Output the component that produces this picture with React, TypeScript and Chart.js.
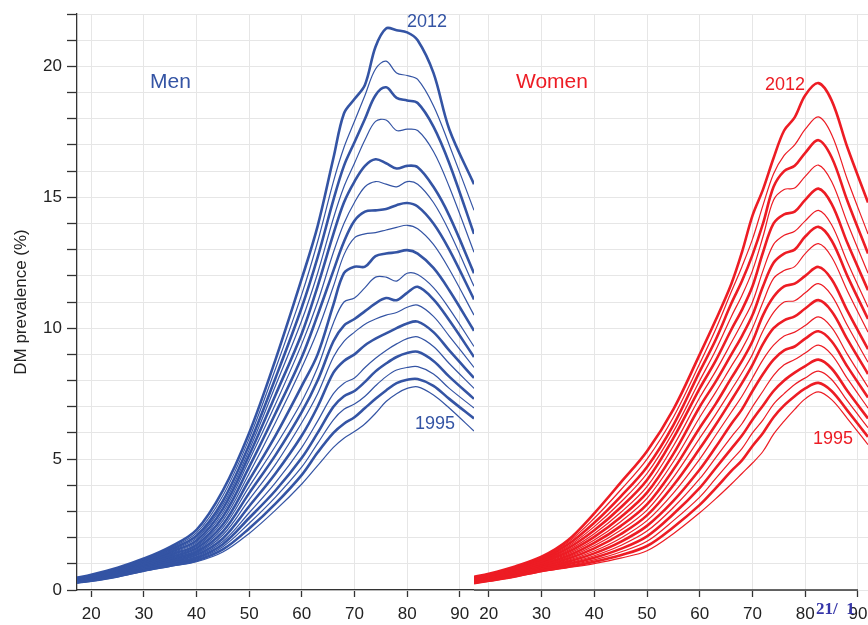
import { useEffect, useRef } from "react"
import { Chart, registerables } from "chart.js"

Chart.register(...registerables)

// survey years, one line each; even years are drawn thicker
const years = [1995, 1996, 1997, 1998, 1999, 2000, 2001, 2002, 2003, 2004, 2005, 2006, 2007, 2008, 2009, 2010, 2011, 2012]

const menAges = [17.3, 20, 25, 30, 35, 40, 45, 50, 55, 60, 63, 66, 68, 70, 72, 74, 76, 78, 80, 82, 85, 88, 92.7]
const womenAges = [17.2, 20, 25, 30, 35, 40, 45, 50, 55, 60, 63, 66, 68, 70, 72, 74, 76, 78, 80, 82.5, 85, 88, 91.9]

// DM prevalence (%) by age, one row per year (same order as years)
const menPrevalence = [
  [0.27, 0.33, 0.5, 0.72, 0.9, 1.08, 1.45, 2.16, 3.05, 4.05, 4.75, 5.45, 5.8, 6.05, 6.35, 6.75, 7.2, 7.5, 7.7, 7.76, 7.45, 6.95, 6.07],
  [0.28, 0.35, 0.52, 0.74, 0.93, 1.13, 1.55, 2.35, 3.3, 4.4, 5.25, 6.0, 6.35, 6.6, 6.95, 7.3, 7.62, 7.9, 8.03, 8.06, 7.8, 7.3, 6.55],
  [0.29, 0.36, 0.54, 0.77, 0.97, 1.18, 1.65, 2.55, 3.55, 4.7, 5.6, 6.5, 6.9, 7.1, 7.4, 7.8, 8.15, 8.4, 8.5, 8.53, 8.25, 7.7, 6.95],
  [0.3, 0.38, 0.56, 0.8, 1.01, 1.23, 1.75, 2.75, 3.8, 5.05, 6.0, 7.0, 7.4, 7.6, 7.95, 8.35, 8.65, 8.9, 9.05, 9.1, 8.75, 8.15, 7.3],
  [0.31, 0.39, 0.58, 0.82, 1.05, 1.28, 1.85, 2.95, 4.1, 5.45, 6.45, 7.5, 7.9, 8.1, 8.5, 8.85, 9.15, 9.4, 9.6, 9.67, 9.3, 8.65, 7.7],
  [0.32, 0.4, 0.6, 0.85, 1.09, 1.34, 1.97, 3.2, 4.45, 5.9, 7.0, 8.3, 8.75, 9.0, 9.35, 9.6, 9.8, 10.0, 10.18, 10.25, 9.85, 9.15, 8.1],
  [0.33, 0.42, 0.62, 0.88, 1.13, 1.4, 2.1, 3.45, 4.8, 6.4, 7.5, 8.9, 9.5, 9.85, 10.15, 10.35, 10.5, 10.6, 10.8, 10.88, 10.45, 9.7, 8.5],
  [0.34, 0.43, 0.64, 0.9, 1.17, 1.46, 2.23, 3.7, 5.15, 6.8, 8.0, 9.5, 10.1, 10.35, 10.65, 10.95, 11.15, 11.07, 11.35, 11.58, 11.1, 10.3, 8.9],
  [0.35, 0.44, 0.66, 0.93, 1.21, 1.52, 2.37, 3.95, 5.5, 7.2, 8.5, 10.2, 11.0, 11.15, 11.55, 11.95, 11.95, 11.8, 12.1, 12.05, 11.55, 10.75, 9.3],
  [0.36, 0.46, 0.68, 0.96, 1.26, 1.59, 2.5, 4.2, 5.9, 7.8, 9.0, 10.9, 12.1, 12.35, 12.35, 12.75, 12.85, 12.9, 12.98, 12.85, 12.3, 11.45, 9.9],
  [0.37, 0.47, 0.7, 0.99, 1.3, 1.66, 2.65, 4.45, 6.4, 8.5, 9.9, 11.6, 12.8, 13.45, 13.6, 13.65, 13.75, 13.85, 13.93, 13.8, 13.2, 12.25, 10.5],
  [0.38, 0.49, 0.72, 1.02, 1.35, 1.73, 2.8, 4.7, 6.75, 8.9, 10.5, 12.2, 13.3, 14.1, 14.45, 14.5, 14.55, 14.7, 14.78, 14.65, 14.0, 13.0, 11.1],
  [0.39, 0.5, 0.74, 1.05, 1.4, 1.81, 2.95, 4.95, 7.1, 9.4, 11.0, 12.9, 14.0, 14.8, 15.4, 15.6, 15.5, 15.4, 15.6, 15.5, 14.8, 13.7, 11.6],
  [0.4, 0.52, 0.76, 1.08, 1.45, 1.89, 3.1, 5.15, 7.45, 9.8, 11.6, 13.6, 14.8, 15.6, 16.2, 16.45, 16.3, 16.1, 16.2, 16.15, 15.4, 14.3, 12.1],
  [0.42, 0.53, 0.78, 1.11, 1.5, 1.98, 3.25, 5.35, 7.8, 10.3, 12.1, 14.2, 15.4, 16.3, 17.2, 17.9, 17.95, 17.55, 17.6, 17.55, 16.75, 15.4, 12.9],
  [0.43, 0.55, 0.8, 1.14, 1.55, 2.07, 3.4, 5.55, 8.1, 10.8, 12.7, 14.9, 16.2, 17.1, 18.0, 18.9, 19.2, 18.8, 18.7, 18.6, 17.7, 16.3, 13.6],
  [0.45, 0.56, 0.82, 1.17, 1.6, 2.18, 3.6, 5.78, 8.45, 11.3, 13.3, 15.6, 16.9, 17.9, 18.9, 19.9, 20.2, 19.75, 19.65, 19.5, 18.5, 17.0, 14.5],
  [0.47, 0.58, 0.85, 1.2, 1.65, 2.3, 3.8, 6.0, 8.8, 11.9, 13.9, 16.5, 18.2, 18.75, 19.3, 20.75, 21.45, 21.38, 21.3, 21.0, 19.75, 17.6, 15.5],
]

const womenPrevalence = [
  [0.25, 0.33, 0.5, 0.7, 0.85, 1.01, 1.22, 1.5, 2.15, 2.95, 3.48, 4.05, 4.45, 4.85, 5.3, 5.95, 6.45, 6.9, 7.3, 7.57, 7.27, 6.55, 5.55],
  [0.26, 0.35, 0.52, 0.73, 0.89, 1.08, 1.33, 1.68, 2.4, 3.25, 3.88, 4.55, 4.95, 5.5, 6.0, 6.6, 7.05, 7.4, 7.7, 7.91, 7.6, 6.85, 5.85],
  [0.28, 0.36, 0.54, 0.76, 0.93, 1.15, 1.45, 1.86, 2.65, 3.55, 4.25, 4.95, 5.4, 6.0, 6.5, 7.1, 7.5, 7.85, 8.1, 8.36, 8.04, 7.22, 6.2],
  [0.29, 0.38, 0.56, 0.79, 0.98, 1.23, 1.57, 2.05, 2.9, 3.9, 4.65, 5.4, 5.9, 6.5, 7.05, 7.6, 8.0, 8.3, 8.55, 8.8, 8.46, 7.6, 6.55],
  [0.3, 0.4, 0.59, 0.82, 1.03, 1.31, 1.7, 2.25, 3.15, 4.25, 5.05, 5.85, 6.35, 7.0, 7.6, 8.2, 8.6, 8.8, 9.05, 9.35, 8.99, 8.07, 6.95],
  [0.32, 0.41, 0.61, 0.85, 1.08, 1.4, 1.84, 2.45, 3.4, 4.6, 5.45, 6.35, 6.9, 7.6, 8.25, 8.8, 9.15, 9.3, 9.6, 9.88, 9.5, 8.53, 7.35],
  [0.33, 0.43, 0.63, 0.89, 1.13, 1.49, 1.98, 2.65, 3.7, 5.0, 5.9, 6.8, 7.4, 8.1, 8.8, 9.35, 9.7, 9.85, 10.1, 10.43, 10.03, 9.0, 7.75],
  [0.34, 0.45, 0.66, 0.92, 1.19, 1.59, 2.13, 2.85, 4.0, 5.4, 6.3, 7.25, 7.9, 8.6, 9.4, 10.0, 10.3, 10.45, 10.75, 11.07, 10.65, 9.57, 8.25],
  [0.36, 0.47, 0.68, 0.96, 1.25, 1.69, 2.28, 3.05, 4.3, 5.8, 6.7, 7.65, 8.3, 9.0, 9.9, 10.6, 11.0, 11.05, 11.35, 11.7, 11.25, 10.1, 8.7],
  [0.37, 0.48, 0.71, 1.0, 1.31, 1.8, 2.44, 3.27, 4.6, 6.2, 7.1, 8.1, 8.75, 9.5, 10.5, 11.2, 11.6, 11.7, 12.0, 12.34, 11.87, 10.66, 9.2],
  [0.39, 0.5, 0.73, 1.04, 1.38, 1.91, 2.61, 3.5, 4.9, 6.6, 7.55, 8.55, 9.2, 10.0, 11.0, 11.9, 12.2, 12.35, 12.85, 13.23, 12.72, 11.42, 9.85],
  [0.4, 0.52, 0.76, 1.08, 1.45, 2.03, 2.78, 3.72, 5.2, 7.0, 7.95, 9.0, 9.7, 10.5, 11.6, 12.5, 12.85, 13.0, 13.5, 13.87, 13.35, 11.99, 10.35],
  [0.42, 0.54, 0.78, 1.11, 1.52, 2.15, 2.96, 3.95, 5.5, 7.35, 8.35, 9.45, 10.2, 11.0, 12.2, 13.2, 13.55, 13.7, 14.1, 14.5, 13.95, 12.52, 10.8],
  [0.43, 0.55, 0.8, 1.14, 1.59, 2.28, 3.15, 4.2, 5.8, 7.7, 8.75, 9.95, 10.7, 11.6, 12.9, 14.0, 14.35, 14.45, 14.9, 15.33, 14.75, 13.25, 11.45],
  [0.45, 0.57, 0.83, 1.17, 1.66, 2.42, 3.35, 4.45, 6.05, 8.0, 9.15, 10.45, 11.25, 12.2, 13.5, 14.9, 15.3, 15.35, 15.8, 16.23, 15.6, 14.02, 12.1],
  [0.46, 0.59, 0.85, 1.2, 1.74, 2.57, 3.57, 4.7, 6.3, 8.35, 9.55, 10.95, 11.8, 12.8, 14.0, 15.4, 16.0, 16.2, 16.7, 17.18, 16.53, 14.86, 12.85],
  [0.48, 0.6, 0.88, 1.24, 1.82, 2.74, 3.82, 5.0, 6.6, 8.65, 9.95, 11.4, 12.35, 13.4, 14.7, 15.9, 16.6, 17.0, 17.6, 18.07, 17.4, 15.67, 13.6],
  [0.5, 0.62, 0.9, 1.27, 1.9, 2.93, 4.1, 5.3, 6.9, 9.0, 10.3, 11.7, 12.9, 14.3, 15.3, 16.5, 17.55, 18.05, 18.9, 19.36, 18.7, 16.9, 14.8],
]

const ageTicks = [20, 30, 40, 50, 60, 70, 80, 90]
const prevalenceTicks = [0, 1, 2, 3, 4, 5, 6, 7, 8, 9, 10, 11, 12, 13, 14, 15, 16, 17, 18, 19, 20, 21, 22]
const prevalenceLabels = [0, 5, 10, 15, 20]

const MEN_BLUE = "#3454a4"
const WOMEN_RED = "#ed1c24"
const GRID = "#e6e6e6"
const AXIS = "#333333"
const FONT = "'Liberation Sans', Arial, Helvetica, sans-serif"

// women's x axis line stops at the last tick, like the original
const shortAxisLine = {
  id: "shortAxisLine",
  afterDraw(chart: Chart) {
    const { ctx, chartArea, scales } = chart
    const end = scales.x.getPixelForValue(ageTicks[ageTicks.length - 1])
    ctx.save()
    ctx.strokeStyle = AXIS
    ctx.lineWidth = 1.3
    ctx.beginPath()
    ctx.moveTo(chartArea.left, chartArea.bottom)
    ctx.lineTo(end, chartArea.bottom)
    ctx.stroke()
    ctx.restore()
  },
}

interface PanelProps {
  ages: number[]
  rows: number[][]
  color: string
  xMin: number
  xMax: number
  withYAxis: boolean
  left: number
  width: number
}

function Panel({ ages, rows, color, xMin, xMax, withYAxis, left, width }: PanelProps) {
  const canvasRef = useRef<HTMLCanvasElement>(null)

  useEffect(() => {
    if (!canvasRef.current) return

    const chart = new Chart(canvasRef.current, {
      type: "line",
      data: {
        datasets: years.map((year, i) => ({
          label: String(year),
          data: ages.map((age, j) => ({ x: age, y: rows[i][j] })),
          borderColor: color,
          borderWidth: year % 2 === 0 ? 2.6 : 1.2,
          pointRadius: 0,
          tension: 0.35,
          fill: false,
        })),
      },
      options: {
        animation: false,
        responsive: true,
        maintainAspectRatio: false,
        layout: { padding: { top: 14, left: 0, right: 0, bottom: 0 } },
        plugins: {
          legend: { display: false },
          tooltip: { enabled: false },
        },
        scales: {
          x: {
            type: "linear",
            min: xMin,
            max: xMax,
            afterBuildTicks: scale => {
              scale.ticks = ageTicks.map(v => ({ value: v }))
            },
            afterFit: scale => {
              scale.height = 35
            },
            grid: { color: GRID, lineWidth: 1, tickColor: AXIS, tickLength: 7, tickWidth: 1.3 },
            border: { display: withYAxis, color: AXIS, width: 1.3 },
            ticks: {
              color: "#222",
              font: { family: FONT, size: 17, lineHeight: 2 },
              padding: 0,
              maxRotation: 0,
              autoSkip: false,
            },
          },
          y: {
            min: 0,
            max: 22,
            afterBuildTicks: scale => {
              scale.ticks = prevalenceTicks.map(v => ({ value: v }))
            },
            afterFit: scale => {
              scale.width = withYAxis ? 77 : 0
            },
            grid: { color: GRID, lineWidth: 1, tickColor: AXIS, tickLength: 10, tickWidth: 1.3, drawTicks: withYAxis },
            border: { display: withYAxis, color: AXIS, width: 1.3 },
            ticks: {
              display: withYAxis,
              color: "#222",
              font: { family: FONT, size: 17, lineHeight: 1 },
              padding: 5,
              autoSkip: false,
              callback: value => (prevalenceLabels.includes(Number(value)) ? String(value) : ""),
            },
            title: {
              display: withYAxis,
              text: "DM prevalence (%)",
              color: "#222",
              font: { family: FONT, size: 17 },
              padding: { top: 11, bottom: 0 },
            },
          },
        },
      },
      plugins: withYAxis ? [] : [shortAxisLine],
    })

    return () => {
      chart.destroy()
    }
  }, [ages, rows, color, xMin, xMax, withYAxis])

  return (
    <div style={{ position: "absolute", left, top: 0, width, height: 625 }}>
      <canvas ref={canvasRef} />
    </div>
  )
}

function Label({ text, x, baseline, size, color }: { text: string; x: number; baseline: number; size: number; color: string }) {
  return (
    <div
      style={{
        position: "absolute",
        left: x,
        top: baseline - 0.8465 * size,
        fontFamily: FONT,
        fontSize: size,
        lineHeight: 1,
        color,
        whiteSpace: "pre",
      }}
    >
      {text}
    </div>
  )
}

export default function App() {
  return (
    <div style={{ position: "absolute", left: 0, top: 0, width: 868, height: 625, background: "#fff", overflow: "hidden" }}>
      <Panel ages={menAges} rows={menPrevalence} color={MEN_BLUE} xMin={17.3} xMax={92.7} withYAxis left={0} width={474} />
      <Panel ages={womenAges} rows={womenPrevalence} color={WOMEN_RED} xMin={17.2} xMax={91.9} withYAxis={false} left={474} width={394} />
      <Label text="Men" x={150} baseline={87.3} size={21} color={MEN_BLUE} />
      <Label text="2012" x={407} baseline={27.3} size={18} color={MEN_BLUE} />
      <Label text="1995" x={415} baseline={429.3} size={18} color={MEN_BLUE} />
      <Label text="Women" x={516} baseline={87.3} size={21} color={WOMEN_RED} />
      <Label text="2012" x={765} baseline={90.7} size={18} color={WOMEN_RED} />
      <Label text="1995" x={813} baseline={444.3} size={18} color={WOMEN_RED} />
      <div
        style={{
          position: "absolute",
          left: 816,
          top: 600,
          fontFamily: "'Liberation Serif', 'DejaVu Serif', serif",
          fontWeight: "bold",
          fontSize: 17,
          lineHeight: 1,
          color: "#3535a8",
          whiteSpace: "pre",
        }}
      >
        {"21/  1"}
      </div>
    </div>
  )
}
